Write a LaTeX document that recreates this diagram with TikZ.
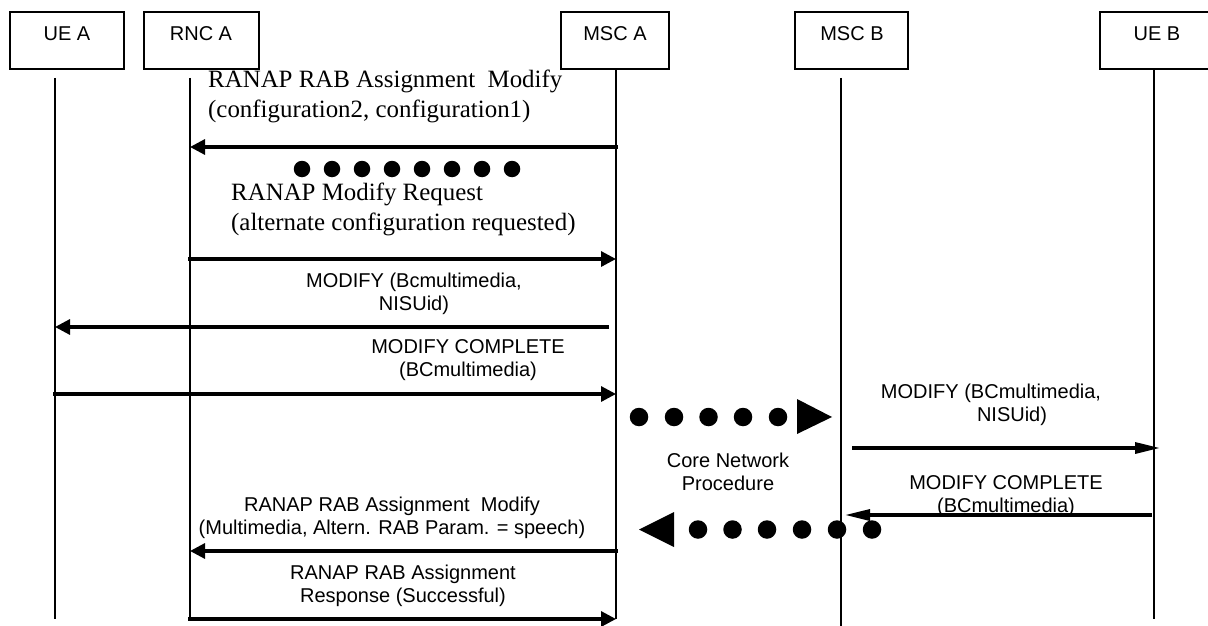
\documentclass[tikz,border=0pt]{standalone}
\usepackage{fontspec}
\setmainfont{Liberation Sans}
\newfontfamily\serifface{Liberation Serif}
\usetikzlibrary{arrows.meta,shapes.geometric}
\tikzset{
  x=1pt,y=-1pt,
  actorbox/.style={draw=black,line width=1.3pt,inner sep=0pt},
  actorlabel/.style={font=\fontsize{20}{22}\selectfont,inner sep=0pt},
  life/.style={draw=black,line width=1.2pt},
  msg/.style={draw=black,line width=3.2pt,-{Triangle[length=15pt,width=15pt]}},
  msgthin/.style={draw=black,line width=3.2pt,-{Triangle[length=25pt,width=11pt]}},
  lab/.style={font=\fontsize{20}{22.5}\selectfont,align=center,inner sep=0pt},
  slab/.style={font=\serifface\fontsize{24.9}{30}\selectfont,align=left,inner sep=0pt,anchor=west},
  blob/.style={circle,fill=black,draw=none,minimum size=16.5pt,inner sep=0pt},
  bigblob/.style={circle,fill=black,draw=none,minimum size=18.5pt,inner sep=0pt}
}
\begin{document}
\begin{tikzpicture}
\useasboundingbox (0,0) rectangle (1208,626);
% actors
\draw[actorbox] (10,12) rectangle (124,69);
\draw[actorbox] (144,12) rectangle (259,69);
\draw[actorbox] (561,12) rectangle (669,69);
\draw[actorbox] (795,12) rectangle (908,69);
\draw[actorbox] (1100,12) rectangle (1214,69);
\node[actorlabel] (tueA) at (67,34) {UE A};
\node[actorlabel] (trncA) at (201,34) {RNC A};
\node[actorlabel] (tmscA) at (615,34) {MSC A};
\node[actorlabel] (tmscB) at (852,34) {MSC B};
\node[actorlabel] (tueB) at (1157,34) {UE B};
% lifelines
\coordinate (a1) at (55,78); \coordinate (a2) at (55,619);
\coordinate (b1) at (190,78); \coordinate (b2) at (190,619);
\coordinate (c1) at (616,69); \coordinate (c2) at (616,619);
\coordinate (d1) at (841,78); \coordinate (d2) at (841,626);
\coordinate (e1) at (1154,69); \coordinate (e2) at (1154,619);
\draw[life] (a1) -- (a2);
\draw[life] (b1) -- (b2);
\draw[life] (c1) -- (c2);
\draw[life] (d1) -- (d2);
\draw[life] (e1) -- (e2);
% messages
\coordinate (m1s) at (618,147); \coordinate (m1e) at (190,147);
\coordinate (m2s) at (188,259); \coordinate (m2e) at (616,259);
\coordinate (m3s) at (609,327); \coordinate (m3e) at (55,327);
\coordinate (m4s) at (53,394); \coordinate (m4e) at (616,394);
\coordinate (m5s) at (852,448); \coordinate (m5e) at (1160,448);
\coordinate (m6s) at (1152,515); \coordinate (m6e) at (845,515);
\coordinate (m7s) at (618,551); \coordinate (m7e) at (190,551);
\coordinate (m8s) at (188,619); \coordinate (m8e) at (616,619);
\draw[msg] (m1s) -- (m1e);
\draw[msg] (m2s) -- (m2e);
\draw[msg] (m3s) -- (m3e);
\draw[msg] (m4s) -- (m4e);
\draw[msgthin] (m5s) -- (m5e);
\draw[msgthin] (m6s) -- (m6e);
\draw[msg] (m7s) -- (m7e);
\draw[msg] (m8s) -- (m8e);
% serif labels
\node[slab] (s1) at (208,96) {RANAP RAB Assignment\ \ Modify\\(configuration2, configuration1)};
\node[slab] (s2) at (231,209) {RANAP Modify Request\\(alternate configuration requested)};
% sans labels
\node[lab] (l1) at (414,294) {MODIFY (Bcmultimedia,\\NISUid)};
\node[lab] (l2) at (468,360) {MODIFY COMPLETE\\(BCmultimedia)};
\node[lab,align=center] (l3) at (991,405) {MODIFY (BCmultimedia,\\\hspace*{42pt}NISUid)};
\node[lab] (l4) at (728,472) {Core Network\\Procedure};
\node[lab] (l5) at (1006,496) {MODIFY COMPLETE\\(BCmultimedia)};
\node[lab] (l6) at (392,518) {RANAP RAB Assignment\ \ Modify\\(Multimedia, Altern. RAB Param. = speech)};
\node[lab] (l7) at (403,586) {RANAP RAB Assignment\\Response (Successful)};
% small dots
\foreach \i/\x in {1/302,2/332,3/362,4/392,5/422,6/452,7/482,8/512}
  \node[blob] (p\i) at (\x,169) {};
% upper dots and triangle
\foreach \i/\x in {1/639,2/674,3/708.5,4/743,5/778}
  \node[bigblob] (q\i) at (\x,417) {};
\fill[black] (797,399) -- (832,417) -- (797,434) -- cycle;
% lower dots and triangle
\foreach \i/\x in {1/698,2/732.5,3/767,4/802,5/837,6/872}
  \node[bigblob] (r\i) at (\x,529.5) {};
\fill[black] (639,529.5) -- (674,512) -- (674,547) -- cycle;
\end{tikzpicture}
\end{document}
